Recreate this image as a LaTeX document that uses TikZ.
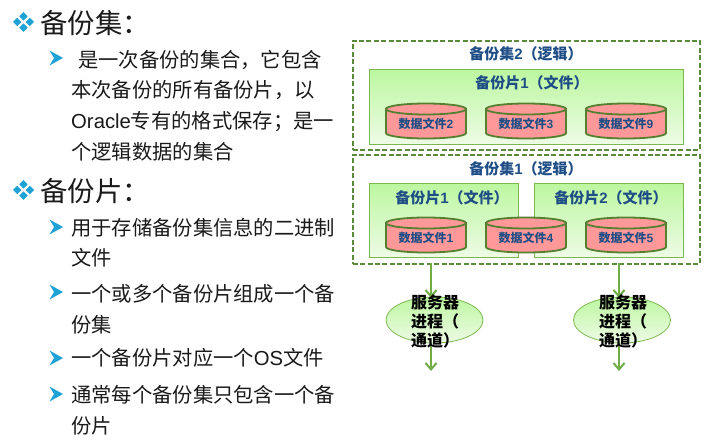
\documentclass[tikz,border=0pt]{standalone}
\usepackage{fontspec}
\setmainfont{Noto Sans CJK SC}
\newfontfamily\lat{Liberation Sans}
\usetikzlibrary{shapes.geometric,arrows.meta}
\definecolor{bul}{HTML}{1FA3D6}
\definecolor{ink}{HTML}{1A1A1A}
\definecolor{navy}{HTML}{1F4E86}
\definecolor{dashg}{HTML}{5B8A3A}
\definecolor{boxg}{HTML}{7DB84F}
\definecolor{gtop}{HTML}{BCF7A0}
\definecolor{gbot}{HTML}{EEFBE6}
\definecolor{pinkf}{HTML}{FF9999}
\definecolor{cylb}{HTML}{558030}
\definecolor{arrg}{HTML}{70AD47}
\tikzset{
  headtxt/.style={anchor=west,inner sep=0pt,text=ink,font=\fontsize{27.4}{30}\selectfont},
  bodytxt/.style={anchor=west,inner sep=0pt,text=ink,align=left,font=\fontsize{20.3}{30.6}\selectfont},
  setbox/.style={draw=dashg,line width=1.6pt,dash pattern=on 5pt off 2.4pt,fill=white,inner sep=0pt,anchor=north west},
  piecebox/.style={draw=boxg,line width=1pt,top color=gtop,bottom color=gbot,inner sep=0pt,anchor=north west},
  ttl/.style={inner sep=0pt,text=navy,font=\fontsize{15}{17}\selectfont\bfseries},
  cylpath/.style={draw=cylb,line width=1.8pt,fill=pinkf},
  cyltxt/.style={inner sep=0pt,text=navy,font=\fontsize{12}{14}\selectfont\bfseries},
  proc/.style={shape=ellipse,draw=boxg,line width=0.8pt,top color=gtop,bottom color=gbot,inner sep=0pt,minimum width=97pt,minimum height=46pt},
  proctxt/.style={anchor=west,inner sep=0pt,align=left,text=black,font=\fontsize{16}{19}\selectfont\bfseries},
  flow/.style={draw=arrg,line width=2pt,-{Straight Barb[length=6.5pt,width=11pt,line width=2pt]}}
}
\newcommand{\diamondbullet}[2]{%
  \foreach \dx/\dy in {-6.3/0,6.3/0,0/-5.6,0/5.6}{%
    \fill[bul] (#1+\dx-4.2,#2+\dy) -- (#1+\dx,#2+\dy-4.2) -- (#1+\dx+4.2,#2+\dy) -- (#1+\dx,#2+\dy+4.2) -- cycle;}}
\newcommand{\arrowbullet}[2]{%
  \fill[bul] (#1,#2-7.5) -- (#1+13.5,#2) -- (#1,#2+7.5) -- (#1+4.5,#2) -- cycle;}
% #1 name, #2 centre x, #3 top-ellipse y, #4 label digit
\newcommand{\datacyl}[4]{%
  \path[cylpath] (#2-40,#3) -- (#2-40,#3+24) arc[start angle=180,end angle=360,x radius=40pt,y radius=5.5pt] -- (#2+40,#3) -- cycle;
  \path[cylpath] (#2,#3) ellipse [x radius=40pt,y radius=5.5pt];
  \node[cyltxt] (#1) at (#2,#3+15) {数据文件{\lat #4}};}
\begin{document}
\begin{tikzpicture}[x=1pt,y=-1pt]
\useasboundingbox (0,0) rectangle (711,446);
\fill[white] (0,0) rectangle (711,446);
% left text
\diamondbullet{23.5}{22}
\node[headtxt] (h1) at (40,23) {备份集：};
\arrowbullet{49.5}{58}
\node[bodytxt] (p1) at (71,105.5) {\hspace{7pt}是一次备份的集合，它包含\\本次备份的所有备份片，以\\{\lat Oracle}专有的格式保存；是一\\个逻辑数据的集合};
\diamondbullet{23.5}{190}
\node[headtxt] (h2) at (40,191) {备份片：};
\arrowbullet{49.5}{227}
\node[bodytxt] (p2) at (71,242.5) {用于存储备份集信息的二进制\\文件};
\arrowbullet{49.5}{292}
\node[bodytxt] (p3) at (71,309) {一个或多个备份片组成一个备\\份集};
\arrowbullet{49.5}{358}
\node[bodytxt] (p4) at (71,358) {一个备份片对应一个{\lat OS}文件};
\arrowbullet{49.5}{394}
\node[bodytxt] (p5) at (71,410) {通常每个备份集只包含一个备\\份片};
% set 2
\node[setbox,minimum width=347pt,minimum height=109pt] (set2) at (352,40) {};
\node[ttl] (set2t) at (526,54) {备份集{\lat 2}（逻辑）};
\node[piecebox,minimum width=314pt,minimum height=75pt] (p21) at (369,69) {};
\node[ttl] (p21t) at (532,83) {备份片{\lat 1}（文件）};
\datacyl{c2}{426}{109}{2}
\datacyl{c3}{526}{109}{3}
\datacyl{c9}{626}{109}{9}
% set 1
\node[setbox,minimum width=347pt,minimum height=109pt] (set1) at (352,154) {};
\node[ttl] (set1t) at (526,169) {备份集{\lat 1}（逻辑）};
\node[piecebox,minimum width=149pt,minimum height=74pt] (p11) at (369,183) {};
\node[piecebox,minimum width=149pt,minimum height=74pt] (p12) at (534,183) {};
\node[ttl] (p11t) at (452,198) {备份片{\lat 1}（文件）};
\node[ttl] (p12t) at (611,198) {备份片{\lat 2}（文件）};
\datacyl{c1}{426}{223}{1}
\datacyl{c4}{526}{223}{4}
\datacyl{c5}{626}{223}{5}
% server processes
\node[proc] (s1) at (434.5,320) {};
\node[proc] (s2) at (622,320) {};
\coordinate (a1) at (431,263);
\coordinate (b1) at (431,298);
\coordinate (d1) at (431,343);
\coordinate (e1) at (431,371);
\coordinate (a2) at (619,263);
\coordinate (b2) at (619,298);
\coordinate (d2) at (619,343);
\coordinate (e2) at (619,371);
\draw[flow] (a1) -- (b1);
\draw[flow] (d1) -- (e1);
\draw[flow] (a2) -- (b2);
\draw[flow] (d2) -- (e2);
\node[proctxt] (s1t) at (411,322) {服务器\\进程（\\通道）};
\node[proctxt] (s2t) at (599,322) {服务器\\进程（\\通道）};
\end{tikzpicture}
\end{document}
